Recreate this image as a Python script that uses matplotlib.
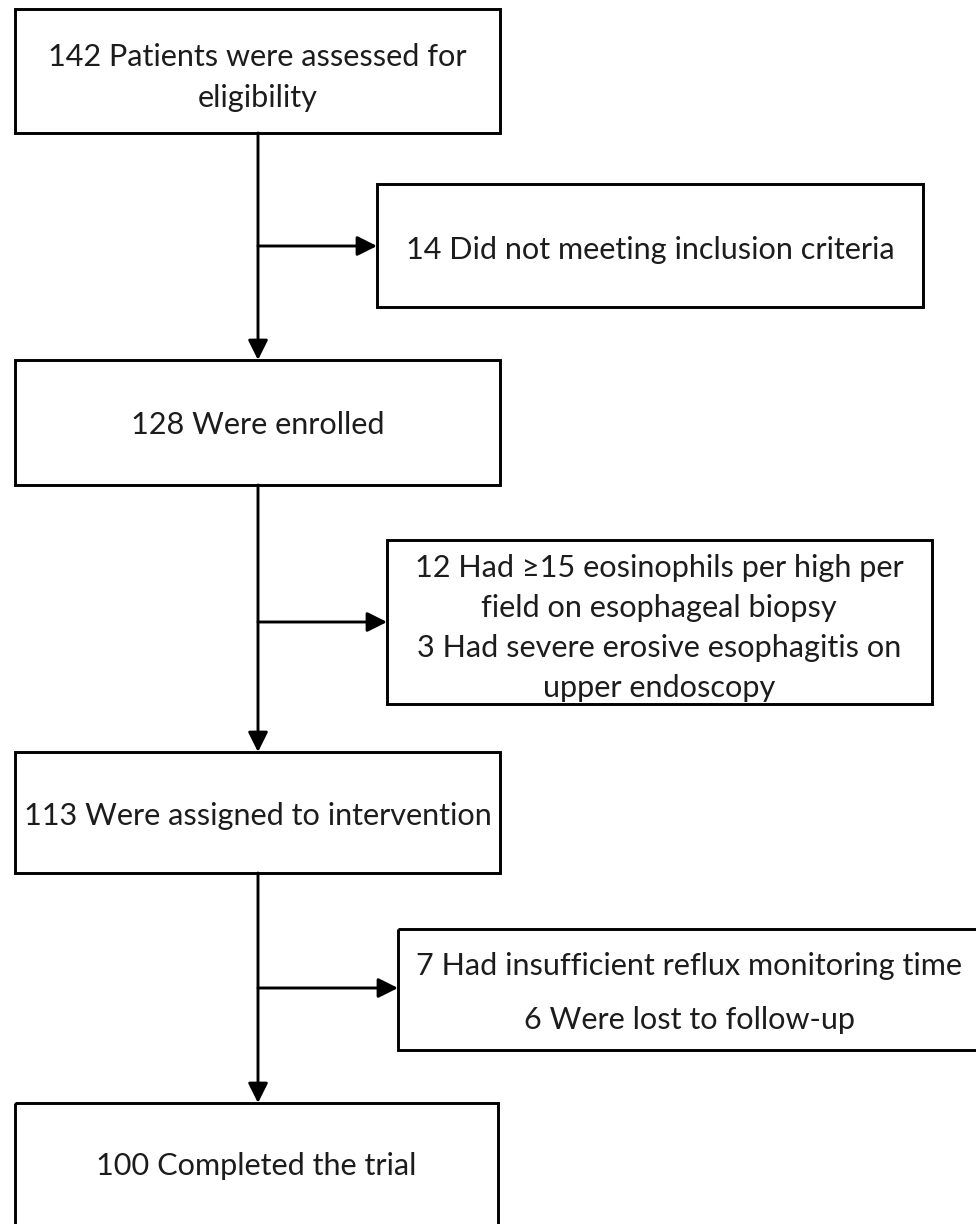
import matplotlib
matplotlib.use("Agg")
import matplotlib.pyplot as plt
from matplotlib.patches import Rectangle

# ---- data (flow counts and labels) ----
main_counts = [142, 128, 113, 100]
main_texts = [
    ["{} Patients were assessed for", "eligibility"],
    ["{} Were enrolled"],
    ["{} Were assigned to intervention"],
    ["{} Completed the trial"],
]
excluded_counts = [[14], [12, 3], [7, 6]]
excluded_texts = [
    ["{} Did not meeting inclusion criteria"],
    ["{} Had ≥15 eosinophils per high per", "field on esophageal biopsy",
     "{} Had severe erosive esophagitis on", "upper endoscopy"],
    ["{} Had insufficient reflux monitoring time", "{} Were lost to follow-up"],
]

# ---- layout (pixel coordinates, y downward) ----
W, H = 976, 1224
main_boxes = [(15, 9, 500, 133), (15, 360, 500, 485), (15, 752, 500, 873), (15, 1103, 498, 1260)]
main_line_y = [[55, 95], [423], [813], [1163]]
side_boxes = [(377, 184, 923, 307), (387, 540, 932, 704), (398, 929, 1000, 1050)]
side_line_y = [[247], [566, 606, 646, 686], [964, 1018]]
side_cx = [650, 659, 689]
spine_x = 258
branch_y = [246, 622, 988]

FONT = ["Lato", "DejaVu Sans"]
TXT = "#1c1c1c"
LW = 2.1

fig = plt.figure(figsize=(W / 100, H / 100), dpi=100)
ax = fig.add_axes([0, 0, 1, 1])
ax.set_xlim(0, W)
ax.set_ylim(H, 0)
ax.axis("off")

# fit font size to reference line width
probe = ax.text(0, 0, "7 Had insufficient reflux monitoring time", fontsize=20, family=FONT)
fig.canvas.draw()
w = probe.get_window_extent().width
probe.remove()
fs = 20 * 548 / w


def fill(lines, counts):
    out = []
    ci = 0
    for ln in lines:
        if "{}" in ln:
            out.append(ln.format(counts[ci]))
            ci += 1
        else:
            out.append(ln)
    return out


def draw_box(b):
    x0, y0, x1, y1 = b
    ax.add_patch(Rectangle((x0, y0), x1 - x0, y1 - y0, fill=False, ec="black", lw=LW, zorder=2))


for b, lines, cnt, ys in zip(main_boxes, main_texts, main_counts, main_line_y):
    draw_box(b)
    cx = (b[0] + b[2]) / 2
    for ln, y in zip(fill(lines, [cnt]), ys):
        ax.text(cx, y, ln, ha="center", va="center_baseline", fontsize=fs, family=FONT, color=TXT)

for b, lines, cnt, ys, cx in zip(side_boxes, excluded_texts, excluded_counts, side_line_y, side_cx):
    draw_box(b)
    for ln, y in zip(fill(lines, cnt), ys):
        ax.text(cx, y, ln, ha="center", va="center_baseline", fontsize=fs, family=FONT, color=TXT)

arrow_kw = dict(arrowstyle="-|>,head_length=0.4,head_width=0.2", mutation_scale=30,
                lw=LW, color="black", shrinkA=0, shrinkB=0)

# vertical arrows between main boxes
for a, b in zip(main_boxes[:-1], main_boxes[1:]):
    ax.annotate("", xy=(spine_x, b[1]), xytext=(spine_x, a[3]), arrowprops=arrow_kw)

# horizontal branch arrows to exclusion boxes
for sb, y in zip(side_boxes, branch_y):
    ax.annotate("", xy=(sb[0], y), xytext=(spine_x, y), arrowprops=arrow_kw)

fig.savefig("out.png", dpi=100, facecolor="white")
